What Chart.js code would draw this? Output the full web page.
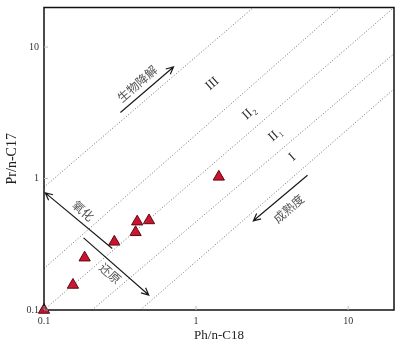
<!DOCTYPE html>
<html>
<head>
<meta charset="utf-8">
<script src="https://cdn.jsdelivr.net/npm/chart.js@4.4.0/dist/chart.umd.min.js"></script>
<style>
  html, body { margin: 0; padding: 0; background: #fff; }
  #wrap { width: 402px; height: 348px; }
</style>
</head>
<body>
<div id="wrap"><canvas id="chart"></canvas></div>
<script>
// samples: Ph/n-C18 (x) and Pr/n-C17 (y)
const phC18 = [0.1, 0.155, 0.185, 0.29, 0.40, 0.41, 0.49, 1.41];
const prC17 = [0.1, 0.155, 0.25, 0.33, 0.39, 0.47, 0.48, 1.03];

// dotted zone boundaries, two end points each
const lineLabels = ["A", "B", "C", "D", "E"];
const lineX1 = [0.1, 0.1, 0.1, 0.207, 0.43];
const lineY1 = [0.86, 0.207, 0.1, 0.1, 0.1];
const lineX2 = [2.38, 8.9, 20, 20, 20];
const lineY2 = [20, 20, 20, 8.9, 4.8];

const tickValues = [0.1, 1, 10];

// arrows (data coords, head at second point)
const arrowNames = ["生物降解", "成熟度", "氧化", "还原"];
const arrowX1 = [0.318, 5.4, 0.281, 0.182];
const arrowY1 = [3.18, 1.06, 0.294, 0.354];
const arrowX2 = [0.71, 2.38, 0.102, 0.488];
const arrowY2 = [7.06, 0.477, 0.778, 0.13];

// text labels (data coords of centre)
const noteText = ["生物降解", "成熟度", "氧化", "还原", "III", "II", "II", "I"];
const noteSub = ["", "", "", "", "", "2", "1", ""];
const noteX = [0.41, 4.05, 0.181, 0.273, 1.28, 2.18, 3.23, 4.3];
const noteY = [5.26, 0.59, 0.569, 0.19, 5.26, 3.07, 2.09, 1.45];
const noteAngle = [-41, -41, 41, 41, -41, -41, -41, -41];

const serif = '"Liberation Serif", "DejaVu Serif", serif';
const cjk = '"Noto Sans CJK SC", sans-serif';

const datasets = lineLabels.map((name, i) => ({
  type: "line",
  label: name,
  data: [{ x: lineX1[i], y: lineY1[i] }, { x: lineX2[i], y: lineY2[i] }],
  borderColor: "#6e6e6e",
  borderWidth: 1,
  borderDash: [1, 2],
  pointRadius: 0,
  fill: false,
}));

datasets.push({
  type: "scatter",
  label: "samples",
  data: phC18.map((x, i) => ({ x: x, y: prC17[i] })),
  pointStyle: "triangle",
  radius: 6.5,
  backgroundColor: "#cc1230",
  borderColor: "#5c0b12",
  borderWidth: 1,
  clip: false,
});

function drawArrow(ctx, x1, y1, x2, y2) {
  const a = Math.atan2(y2 - y1, x2 - x1);
  const h = 8;
  ctx.beginPath();
  ctx.moveTo(x1, y1);
  ctx.lineTo(x2, y2);
  ctx.moveTo(x2 - h * Math.cos(a - 0.45), y2 - h * Math.sin(a - 0.45));
  ctx.lineTo(x2, y2);
  ctx.lineTo(x2 - h * Math.cos(a + 0.45), y2 - h * Math.sin(a + 0.45));
  ctx.stroke();
}

const decorations = {
  id: "decorations",
  afterDatasetsDraw(chart) {
    const { ctx, chartArea: area, scales } = chart;
    const sx = scales.x, sy = scales.y;
    ctx.save();

    // frame
    ctx.strokeStyle = "#111";
    ctx.lineWidth = 1.5;
    ctx.strokeRect(area.left, area.top, area.right - area.left, area.bottom - area.top);

    // small inner tick marks
    ctx.strokeStyle = "#bbb";
    ctx.lineWidth = 1;
    tickValues.forEach((v) => {
      const px = sx.getPixelForValue(v);
      const py = sy.getPixelForValue(v);
      ctx.beginPath();
      ctx.moveTo(px, area.bottom);
      ctx.lineTo(px, area.bottom - 4);
      ctx.moveTo(area.left, py);
      ctx.lineTo(area.left + 4, py);
      ctx.stroke();
    });

    // arrows
    ctx.strokeStyle = "#1a1a1a";
    ctx.lineWidth = 1.2;
    arrowNames.forEach((n, i) => {
      drawArrow(ctx,
        sx.getPixelForValue(arrowX1[i]), sy.getPixelForValue(arrowY1[i]),
        sx.getPixelForValue(arrowX2[i]), sy.getPixelForValue(arrowY2[i]));
    });

    // labels
    ctx.textAlign = "center";
    ctx.textBaseline = "middle";
    noteText.forEach((t, i) => {
      ctx.save();
      ctx.translate(sx.getPixelForValue(noteX[i]), sy.getPixelForValue(noteY[i]));
      ctx.rotate(noteAngle[i] * Math.PI / 180);
      if (/^[IV]+$/.test(t)) {
        ctx.fillStyle = "#2a2a2a";
        ctx.font = "13px " + serif;
        ctx.fillText(t, 0, 0);
        if (noteSub[i]) {
          const w = ctx.measureText(t).width;
          ctx.font = "8px " + serif;
          ctx.textAlign = "left";
          ctx.fillText(noteSub[i], w / 2 + 1, 4);
        }
      } else {
        ctx.fillStyle = "#555";
        ctx.font = "12px " + cjk;
        ctx.fillText(t, 0, 0);
      }
      ctx.restore();
    });

    ctx.restore();
  },
};

function axis(titleText, titlePadding) {
  return {
    type: "logarithmic",
    min: 0.1,
    max: 20,
    border: { display: false },
    grid: { display: false, drawTicks: false },
    afterBuildTicks: (scale) => {
      scale.ticks = tickValues.map((v) => ({ value: v }));
    },
    ticks: {
      padding: 5,
      color: "#333",
      font: { family: serif, size: 10 },
      callback: (v) => String(v),
      autoSkip: false,
      maxRotation: 0,
    },
    title: {
      display: true,
      text: titleText,
      color: "#222",
      font: { family: serif, size: 14 },
      padding: titlePadding,
    },
  };
}

const xAxis = axis("Ph/n-C18", { top: 0, bottom: 5 });
xAxis.position = "bottom";
xAxis.title.font.size = 13;
xAxis.afterFit = (scale) => { scale.height = 38; };

const yAxis = axis("Pr/n-C17", { top: 4, bottom: 0 });
yAxis.position = "left";
yAxis.afterFit = (scale) => {
  scale.width = 44;
  scale.paddingTop = 0;
  scale.paddingBottom = 0;
};

new Chart(document.getElementById("chart").getContext("2d"), {
  data: { datasets: datasets },
  options: {
    responsive: true,
    maintainAspectRatio: false,
    animation: false,
    layout: { padding: { top: 5, right: 8, left: 0, bottom: 0 } },
    plugins: { legend: { display: false }, tooltip: { enabled: false } },
    scales: { x: xAxis, y: yAxis },
  },
  plugins: [decorations],
});
</script>
</body>
</html>
